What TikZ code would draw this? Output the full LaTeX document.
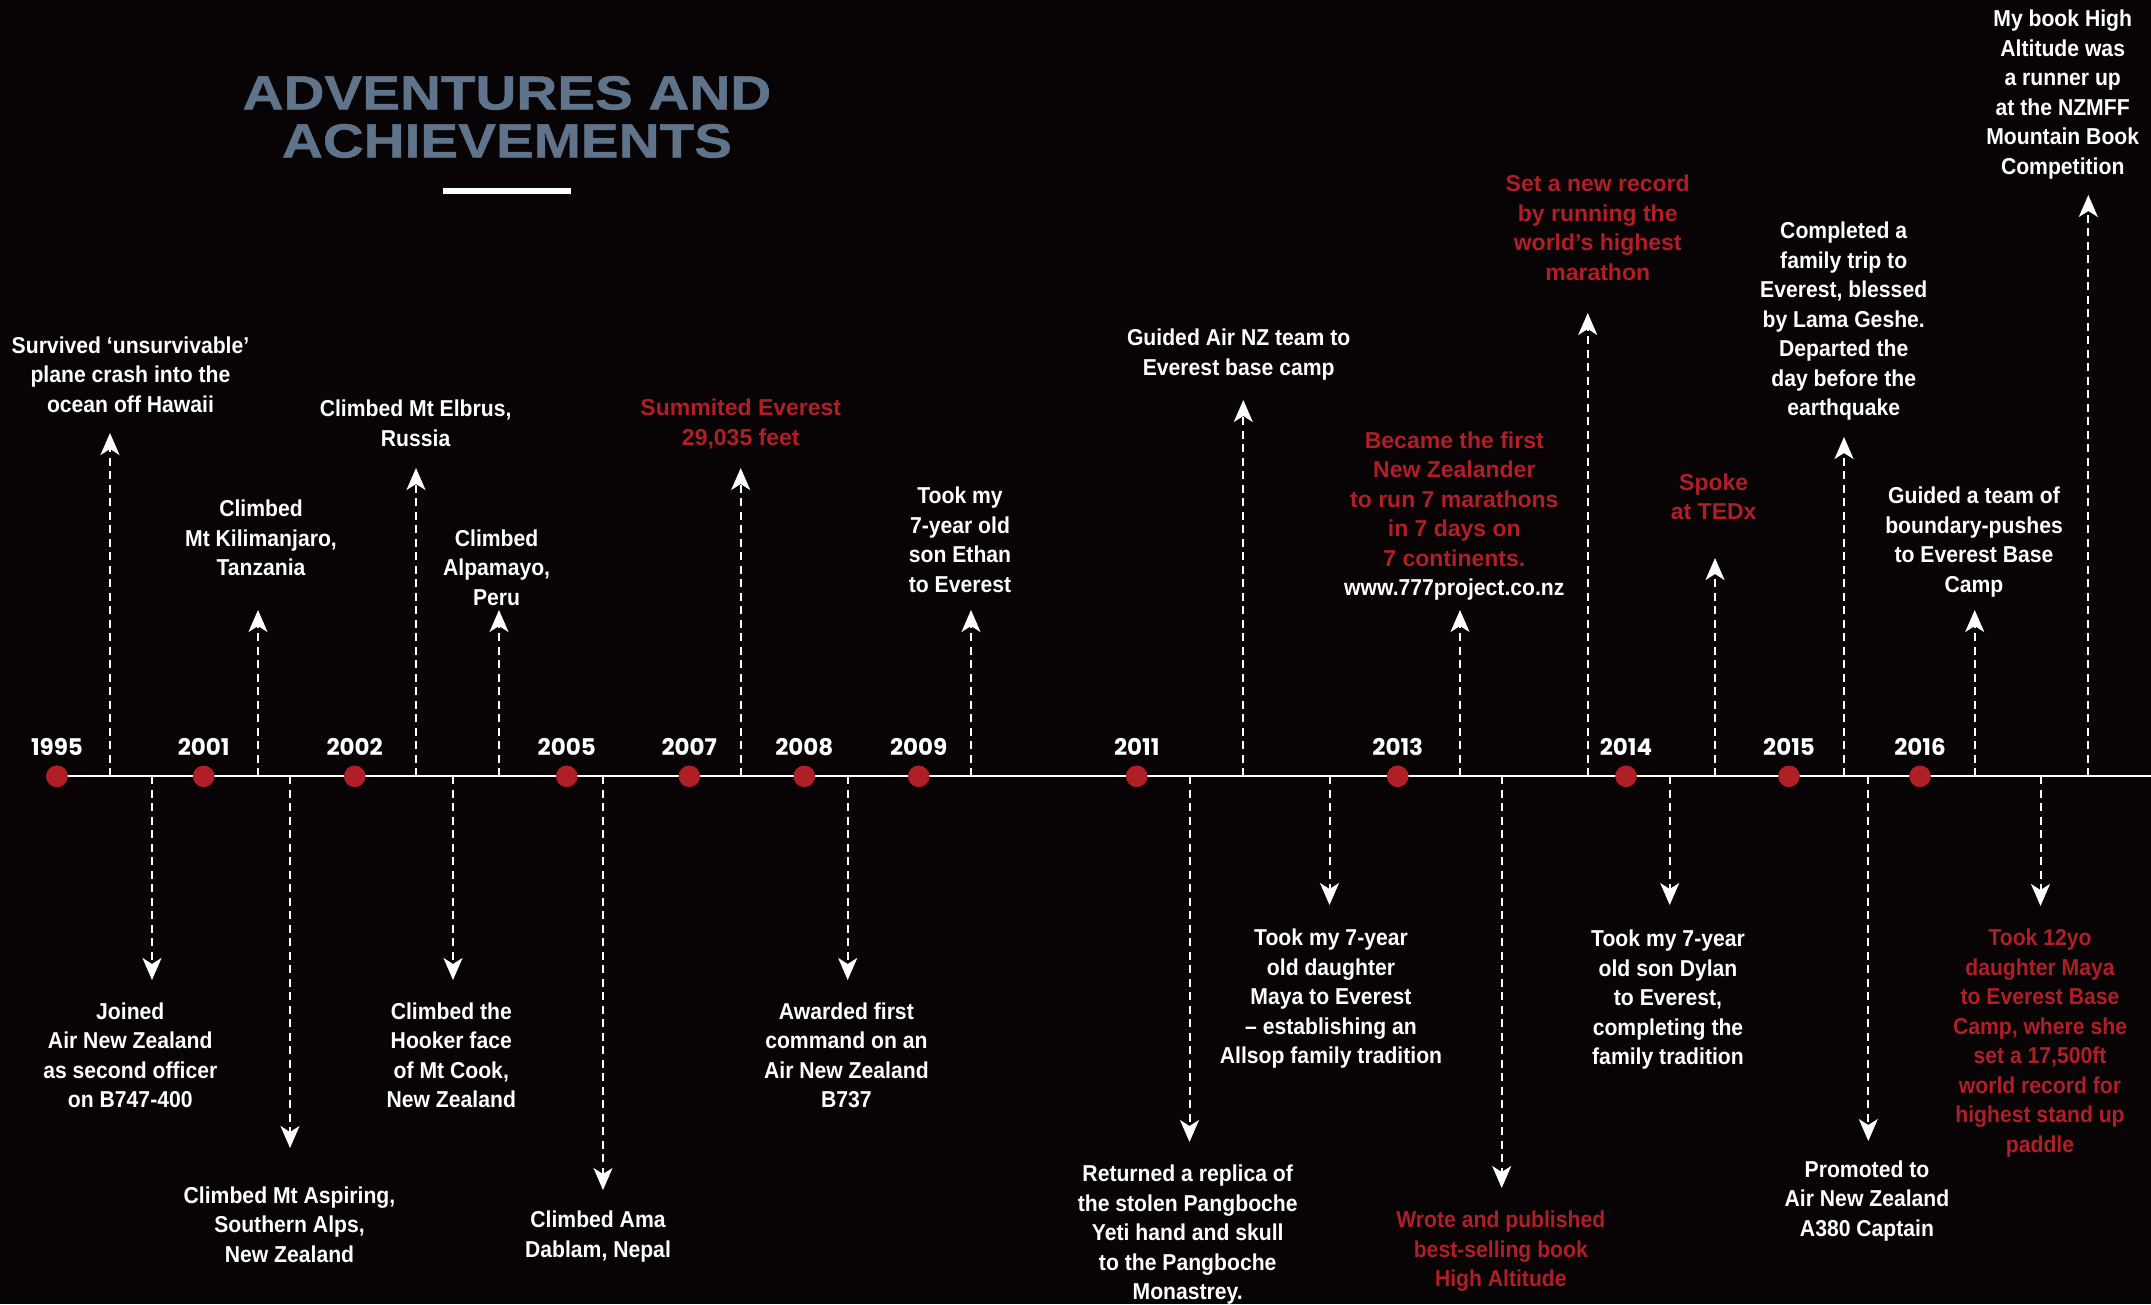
\documentclass[tikz,border=0pt]{standalone}
\usepackage{fontspec}
\setmainfont{Liberation Sans}
\newfontfamily\labfont[FakeStretch=0.92]{Liberation Sans}
\newfontfamily\widefont{Liberation Sans}
\newfontfamily\yearfont{Poppins}
\newfontfamily\titlefont[FakeStretch=1.18,FakeBold=1]{Liberation Sans}
\usetikzlibrary{arrows.meta}
\definecolor{bgc}{RGB}{8,3,4}
\definecolor{redc}{RGB}{176,30,38}
\definecolor{slate}{RGB}{95,116,138}
\begin{document}
\begin{tikzpicture}[x=1pt,y=-1pt,
  lab/.style={align=center, inner sep=0pt, anchor=north, text=white,
    font=\labfont\bfseries\fontsize{23}{29.5}\selectfont},
  redlab/.style={lab, text=redc},
  redwide/.style={lab, text=redc, font=\widefont\bfseries\fontsize{23}{29.5}\selectfont},
  yr/.style={anchor=base, text=white, inner sep=0pt,
    font=\yearfont\bfseries\fontsize{23}{28}\selectfont},
  dot/.style={circle, fill=redc, minimum size=21.6pt, inner sep=0pt},
  darr/.style={draw=white, line width=2pt, dash pattern=on 8pt off 5.5pt,
    -{Stealth[length=22pt,width=19pt,inset=6pt]}},
]
\fill[bgc] (0,0) rectangle (2151,1304);
\useasboundingbox (0,0) rectangle (2151,1304);

% title
\node[anchor=north, text=slate, align=center, inner sep=0pt,
  font=\titlefont\bfseries\fontsize{48}{48}\selectfont] (title) at (507,75.7)
  {\strut ADVENTURES AND\\ACHIEVEMENTS};
\node[fill=white, minimum width=128pt, minimum height=6pt, inner sep=0pt] (rule) at (507,191.3) {};

% timeline
\coordinate (tlend) at (2151,776.3);
\node[dot] (d1995) at (57,776.3) {};
\draw[white, line width=2pt] (d1995.center) -- (tlend);

% dashed arrows
\foreach \n/\x/\t in {u1/110/433, u2/258/610, u3/416/468, u4/499/610, u5/740.7/468,
  u6/971/610, u7/1243.3/400, u8/1460/610, u9/1587.7/313, u10/1715/558,
  u11/1844/437, u12/1974.7/610, u13/2088.3/195,
  d1/152/980, d2/290/1148, d3/453/980, d4/603/1190, d5/847.7/980,
  d6/1189.5/1142, d7/1329.5/905, d8/1501.7/1188, d9/1669.7/905,
  d10/1868.3/1141, d11/2040.5/906}
{
  \coordinate (\n b) at (\x,776.3);
  \coordinate (\n t) at (\x,\t);
  \draw[darr] (\n b) -- (\n t);
}

% dots and years
\foreach \y/\x in {1995/57, 2001/203.7, 2002/354.7, 2005/566.7, 2007/689.3,
  2008/804.3, 2009/918.7, 2011/1136.7, 2013/1397.7, 2014/1626, 2015/1789, 2016/1920}
{
  \node[dot] (dot\y) at (\x,776.3) {};
  \node[yr] (yr\y) at (\x,755) {\y};
}

% labels above
\node[lab] (l1) at (130.5,332.6) {\strut Survived ‘unsurvivable’\\plane crash into the\\ocean off Hawaii};
\node[lab] (l2) at (261,495.9) {\strut Climbed\\Mt Kilimanjaro,\\Tanzania};
\node[lab] (l3) at (415.6,395.9) {\strut Climbed Mt Elbrus,\\Russia};
\node[lab] (l4) at (496.6,525.4) {\strut Climbed\\Alpamayo,\\Peru};
\node[redwide] (l5) at (740.8,395) {\strut Summited Everest\\29,035 feet};
\node[lab] (l6) at (960,482.8) {\strut Took my\\7-year old\\son Ethan\\to Everest};
\node[lab] (l7) at (1238.7,325.1) {\strut Guided Air NZ team to\\Everest base camp};
\node[redwide] (l8) at (1454.3,427.6) {\strut Became the first\\New Zealander\\to run 7 marathons\\in 7 days on\\7 continents.\\{\labfont\bfseries\color{white}www.777project.co.nz}};
\node[redwide] (l9) at (1597.7,170.9) {\strut Set a new record\\by running the\\world’s highest\\marathon};
\node[redwide] (l10) at (1713.7,469.3) {\strut Spoke\\at TEDx};
\node[lab] (l11) at (1843.7,218.1) {\strut Completed a\\family trip to\\Everest, blessed\\by Lama Geshe.\\Departed the\\day before the\\earthquake};
\node[lab] (l12) at (1974,482.8) {\strut Guided a team of\\boundary-pushes\\to Everest Base\\Camp};
\node[lab] (l13) at (2062.7,5.9) {\strut My book High\\Altitude was\\a runner up\\at the NZMFF\\Mountain Book\\Competition};

% labels below
\node[lab] (m1) at (130.3,998.6) {\strut Joined\\Air New Zealand\\as second officer\\on B747-400};
\node[lab] (m2) at (289.5,1182.4) {\strut Climbed Mt Aspiring,\\Southern Alps,\\New Zealand};
\node[lab] (m3) at (451.3,998.6) {\strut Climbed the\\Hooker face\\of Mt Cook,\\New Zealand};
\node[lab] (m4) at (598,1207.1) {\strut Climbed Ama\\Dablam, Nepal};
\node[lab] (m5) at (846.4,998.6) {\strut Awarded first\\command on an\\Air New Zealand\\B737};
\node[lab] (m6) at (1187.7,1160.9) {\strut Returned a replica of\\the stolen Pangboche\\Yeti hand and skull\\to the Pangboche\\Monastrey.};
\node[lab] (m7) at (1331,924.9) {\strut Took my 7-year\\old daughter\\Maya to Everest\\– establishing an\\Allsop family tradition};
\node[redlab] (m8) at (1500.8,1206.9) {\strut Wrote and published\\best-selling book\\High Altitude};
\node[lab] (m9) at (1668,925.9) {\strut Took my 7-year\\old son Dylan\\to Everest,\\completing the\\family tradition};
\node[lab] (m10) at (1867,1156.4) {\strut Promoted to\\Air New Zealand\\A380 Captain};
\node[redlab] (m11) at (2040,924.9) {\strut Took 12yo\\daughter Maya\\to Everest Base\\Camp, where she\\set a 17,500ft\\world record for\\highest stand up\\paddle};
\end{tikzpicture}
\end{document}
